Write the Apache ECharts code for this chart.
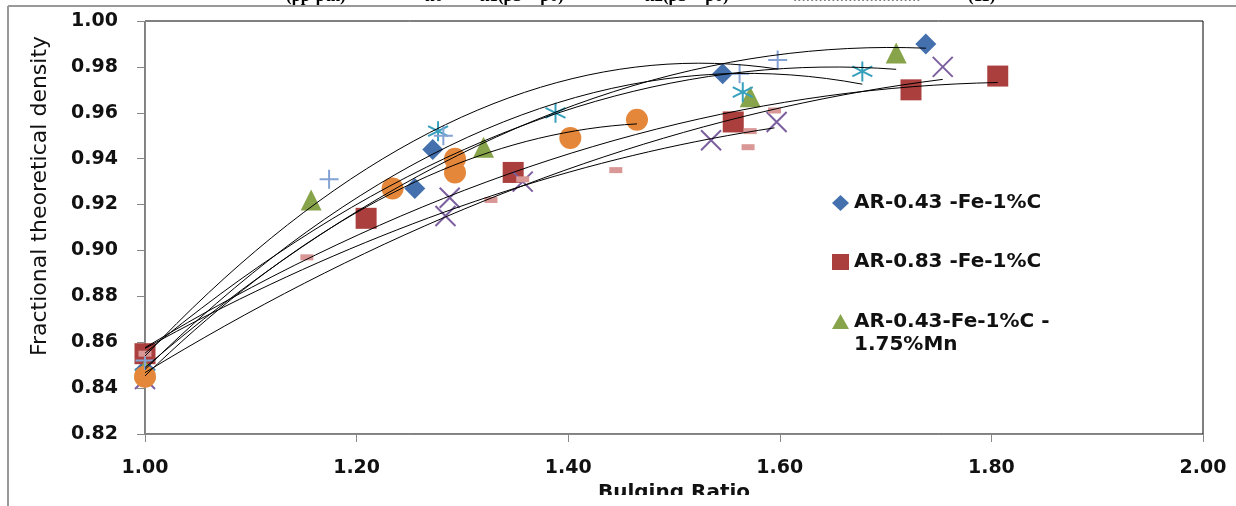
<!DOCTYPE html>
<html>
<head>
<meta charset="utf-8">
<script src="https://cdn.jsdelivr.net/npm/echarts@6/dist/echarts.min.js"></script>
<style>
html,body{margin:0;padding:0;background:#fff;}
#chart{width:1236px;height:506px;}
</style>
</head>
<body>
<div id="chart"></div>
<script>
// ---- data ----
var xTicks = [1.00, 1.20, 1.40, 1.60, 1.80, 2.00];
var yTicks = [0.82, 0.84, 0.86, 0.88, 0.90, 0.92, 0.94, 0.96, 0.98, 1.00];

var diamondX = [1.000, 1.255, 1.272, 1.546, 1.738];
var diamondY = [0.848, 0.927, 0.944, 0.977, 0.990];

var squareX = [1.000, 1.209, 1.348, 1.556, 1.724, 1.806];
var squareY = [0.855, 0.914, 0.934, 0.956, 0.970, 0.976];

var triangleX = [1.000, 1.157, 1.320, 1.572, 1.710];
var triangleY = [0.848, 0.922, 0.945, 0.967, 0.986];

var crossX = [1.000, 1.284, 1.288, 1.357, 1.535, 1.597, 1.754];
var crossY = [0.844, 0.915, 0.923, 0.930, 0.948, 0.956, 0.980];

var starX = [1.000, 1.277, 1.388, 1.565, 1.678];
var starY = [0.846, 0.952, 0.960, 0.969, 0.978];

var circleX = [1.000, 1.234, 1.293, 1.293, 1.402, 1.465];
var circleY = [0.845, 0.927, 0.940, 0.934, 0.949, 0.957];

var plusX = [1.000, 1.174, 1.282, 1.562, 1.598];
var plusY = [0.852, 0.931, 0.950, 0.977, 0.983];

var dashX = [1.000, 1.153, 1.327, 1.357, 1.445, 1.570, 1.572, 1.595];
var dashY = [0.855, 0.897, 0.922, 0.931, 0.935, 0.945, 0.952, 0.961];

var names = {
  diamond: 'AR-0.43 -Fe-1%C',
  square: 'AR-0.83 -Fe-1%C',
  triangle: 'AR-0.43-Fe-1%C -\n1.75%Mn',
  cross: 'AR-0.83-Fe-1%C-1.75%Mn',
  star: 'AR-0.43-Fe-1%C-3.5%Mn',
  circle: 'AR-0.83-Fe-1%C-3.5%Mn',
  plus: 'AR-0.43-Fe-1%C-5.25%Mn',
  dash: 'AR-0.83-Fe-1%C-5.25%Mn'
};

// ---- helpers ----
function pairs(xs, ys){ return xs.map(function(x,i){ return [x, ys[i]]; }); }

// 2nd-order polynomial trendline (least squares), like the spreadsheet trendlines
function quadTrend(xs, ys){
  var n = xs.length, S = [0,0,0,0,0], T = [0,0,0];
  for (var i=0;i<n;i++){
    var t = xs[i]-1, p = 1;
    for (var k=0;k<5;k++){ S[k]+=p; if(k<3) T[k]+=p*ys[i]; p*=t; }
  }
  var A = [[S[0],S[1],S[2],T[0]],[S[1],S[2],S[3],T[1]],[S[2],S[3],S[4],T[2]]];
  for (var c=0;c<3;c++){
    var piv=c; for (var r=c+1;r<3;r++) if (Math.abs(A[r][c])>Math.abs(A[piv][c])) piv=r;
    var tmp=A[c]; A[c]=A[piv]; A[piv]=tmp;
    for (var r2=0;r2<3;r2++){ if(r2===c) continue; var f=A[r2][c]/A[c][c];
      for (var k2=c;k2<4;k2++) A[r2][k2]-=f*A[c][k2]; }
  }
  var a=A[0][3]/A[0][0], b=A[1][3]/A[1][1], cc=A[2][3]/A[2][2];
  var x0=Math.min.apply(null,xs), x1=Math.max.apply(null,xs), out=[];
  for (var j=0;j<=40;j++){ var x=x0+(x1-x0)*j/40, tt=x-1; out.push([x, a+b*tt+cc*tt*tt]); }
  return out;
}

var FONT = 'DejaVu Sans';
var groups = [
  {key:'diamond', xs:diamondX, ys:diamondY, symbol:'diamond', size:21, style:{color:'#4471AD', opacity:1}},
  {key:'square', xs:squareX, ys:squareY, symbol:'rect', size:21, style:{color:'#AA3F3D', opacity:1}},
  {key:'triangle', xs:triangleX, ys:triangleY, symbol:'triangle', size:21, style:{color:'#87A44B', opacity:1}},
  {key:'cross', xs:crossX, ys:crossY, symbol:'path://M0,0L10,10M10,0L0,10', size:20, style:{color:'none', borderColor:'#7C5F9E', borderWidth:2, opacity:1}},
  {key:'star', xs:starX, ys:starY, symbol:'path://M5,0L5,10M0.7,2.5L9.3,7.5M0.7,7.5L9.3,2.5', size:20, style:{color:'none', borderColor:'#37A0BC', borderWidth:2, opacity:1}},
  {key:'circle', xs:circleX, ys:circleY, symbol:'circle', size:22, style:{color:'#E4873A', opacity:1}},
  {key:'plus', xs:plusX, ys:plusY, symbol:'path://M5,0L5,10M0,5L10,5', size:19, style:{color:'none', borderColor:'#84A2D4', borderWidth:2, opacity:1}},
  {key:'dash', xs:dashX, ys:dashY, symbol:'rect', size:[13,6], style:{color:'#D99795', opacity:1}}
];

var series = [];
groups.forEach(function(g){
  series.push({
    name: names[g.key], type:'scatter', data: pairs(g.xs, g.ys),
    symbol: g.symbol, symbolSize: g.size, itemStyle: g.style, z: 2, silent: true
  });
});
groups.forEach(function(g){
  series.push({
    name: 'trend ' + g.key, type:'line', data: quadTrend(g.xs, g.ys),
    showSymbol:false, symbol:'none', smooth:false, silent:true,
    lineStyle:{color:'#000', width:1}, z: 3
  });
});

var legendText = {fontFamily:FONT, fontWeight:'bold', fontSize:20, color:'#111', lineHeight:23};
function mkLegend(name, top, opts){
  var l = {
    data:[name], orient:'vertical', left:832, top:top, padding:0,
    itemWidth:17, itemHeight:16, itemGap:8, textStyle: legendText,
    selectedMode:false
  };
  if (opts) for (var k in opts) l[k] = opts[k];
  return l;
}

var chart = echarts.init(document.getElementById('chart'), null, {renderer:'canvas'});
chart.setOption({
  animation:false,
  backgroundColor:'#fff',
  grid:{left:145, right:33, top:21, bottom:72, show:true, borderColor:'#000', borderWidth:1,
    containLabel:false, outerBoundsMode:'none'},
  legend:[
    mkLegend(names.diamond, 191.5),
    mkLegend(names.square, 250.5),
    // icon drawn in the upper part of a taller box so it lines up with the first text line
    mkLegend(names.triangle, 310.5, {itemHeight:39,
      icon:'path://M8.5,0L17,15L0,15Z M0,39L0.01,39L0,39.01Z'})
  ],
  xAxis:{
    type:'value', min:xTicks[0], max:xTicks[xTicks.length-1], interval:0.2,
    name:'Bulging Ratio', nameLocation:'middle', nameGap:44,
    nameTextStyle:{fontFamily:FONT, fontWeight:'bold', fontSize:20, color:'#111'},
    axisLine:{show:true, lineStyle:{color:'#888', width:1}},
    axisTick:{show:true, length:8, lineStyle:{color:'#888'}},
    axisLabel:{margin:25, fontFamily:FONT, fontWeight:'bold', fontSize:19, color:'#111',
      formatter:function(v){ return v.toFixed(2); }},
    splitLine:{show:false}
  },
  yAxis:{
    type:'value', min:yTicks[0], max:yTicks[yTicks.length-1], interval:0.02,
    axisLine:{show:true, lineStyle:{color:'#888', width:1}},
    axisTick:{show:true, length:8, lineStyle:{color:'#888'}},
    axisLabel:{margin:27, fontFamily:FONT, fontWeight:'bold', fontSize:19, color:'#111',
      formatter:function(v){ return v.toFixed(2); }},
    splitLine:{show:false}
  },
  graphic:[
    {type:'text', x:40, y:196, rotation:Math.PI/2, z:10,
      style:{text:'Fractional theoretical density', fontFamily:FONT, fontSize:22, fill:'#111',
        textAlign:'center', textVerticalAlign:'middle'}},
    {type:'rect', shape:{x:10, y:495, width:1226, height:11}, style:{fill:'#fff'}, z:20},
    {type:'line', shape:{x1:8, y1:6, x2:1236, y2:6}, style:{stroke:'#999', lineWidth:2}, z:21},
    {type:'line', shape:{x1:8, y1:6, x2:8, y2:506}, style:{stroke:'#999', lineWidth:2}, z:21},
    {type:'text', x:286, y:5, z:21, style:{text:'(ρp-ρth)', font:'bold 17px "Liberation Serif"', fill:'#000', textVerticalAlign:'bottom'}},
    {type:'text', x:425, y:5, z:21, style:{text:'k0 +', font:'bold 17px "Liberation Serif"', fill:'#000', textVerticalAlign:'bottom'}},
    {type:'text', x:480, y:5, z:21, style:{text:'k1(ρb − ρ0) +', font:'bold 17px "Liberation Serif"', fill:'#000', textVerticalAlign:'bottom'}},
    {type:'text', x:645, y:5, z:21, style:{text:'k2(ρb − ρ0)²', font:'bold 17px "Liberation Serif"', fill:'#000', textVerticalAlign:'bottom'}},
    {type:'text', x:793, y:5, z:21, style:{text:'..............................', font:'17px "Liberation Serif"', fill:'#777', textVerticalAlign:'bottom'}},
    {type:'text', x:968, y:5, z:21, style:{text:'(11)', font:'bold 17px "Liberation Serif"', fill:'#000', textVerticalAlign:'bottom'}}
  ],
  series: series
});
</script>
</body>
</html>
